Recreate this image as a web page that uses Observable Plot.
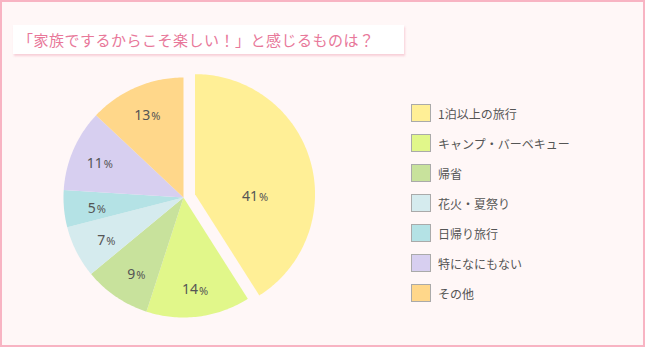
<!DOCTYPE html>
<html><head><meta charset="utf-8">
<script src="https://cdn.jsdelivr.net/npm/d3@7"></script>
<script src="https://cdn.jsdelivr.net/npm/@observablehq/plot@0.6"></script>
<style>
body{margin:0;background:#fff;font-family:"Noto Sans CJK JP",sans-serif;}
#frame{position:absolute;left:0;top:0;width:641px;height:343px;border:2px solid #F8B4C3;background:#FFF7F7;}
#title{position:absolute;left:13px;top:25px;width:391px;height:29px;background:#fff;box-shadow:1px 2px 2px rgba(240,160,180,0.45);color:#E8789A;font-size:15px;line-height:29px;padding-left:5px;box-sizing:border-box;letter-spacing:0.5px;white-space:nowrap}
#pie{position:absolute;left:33px;top:57px;}
#legend{position:absolute;left:411px;top:104px;}
.row{display:flex;align-items:center;height:18px;margin-bottom:12px;font-size:12px;color:#555;white-space:nowrap}
.sw{width:18px;height:16px;border:1px solid #aaa;margin-right:7px;flex:none}
</style>
</head><body>
<div id="frame"></div>
<div id="title">「家族でするからこそ楽しい！」と感じるものは？</div>
<div id="pie"></div>
<div id="legend"></div>
<script>
const categories = ["1泊以上の旅行","キャンプ・バーベキュー","帰省","花火・夏祭り","日帰り旅行","特になにもない","その他"];
const values = [41, 14, 9, 7, 5, 11, 13];
const colors = ["#FFEF96","#E1F78A","#C8E29C","#D5EBEE","#B4E2E5","#D7CFF0","#FFD78A"];
const exploded = ["1泊以上の旅行"];

const total = d3.sum(values);
let acc = 0;
const slices = categories.map((name, i) => {
  const a0 = acc / total * 2 * Math.PI;
  acc += values[i];
  const a1 = acc / total * 2 * Math.PI;
  return {name, value: values[i], a0, a1, i};
});
const points = [];
const labels = [];
for (const s of slices) {
  const mid = (s.a0 + s.a1) / 2;
  const off = exploded.includes(s.name) ? 0.1 : 0;
  const cx = off * Math.sin(mid), cy = off * Math.cos(mid);
  points.push({name: s.name, x: cx, y: cy});
  const n = Math.max(2, Math.ceil((s.a1 - s.a0) / (Math.PI / 180)));
  for (let k = 0; k <= n; k++) {
    const a = s.a0 + (s.a1 - s.a0) * k / n;
    points.push({name: s.name, x: cx + Math.sin(a), y: cy + Math.cos(a)});
  }
  points.push({name: s.name, x: cx, y: cy});
  const big = s.value / total > 0.3;
  const la = big ? Math.PI / 2 : mid;
  const lr = big ? 0.5 : 0.76;
  labels.push({name: s.name, value: s.value, x: cx + lr * Math.sin(la), y: cy + lr * Math.cos(la)});
}

const W = 300, H = 280, R = 120;
const chart = Plot.plot({
  width: W, height: H, margin: 0,
  style: {background: "transparent", fontFamily: "'Noto Sans', 'DejaVu Sans', sans-serif"},
  x: {domain: [-W / 2 / R, W / 2 / R], axis: null},
  y: {domain: [-H / 2 / R, H / 2 / R], axis: null},
  color: {domain: categories, range: colors},
  marks: [
    Plot.line(points, {x: "x", y: "y", z: "name", fill: "name", stroke: "none", curve: "linear"}),
    Plot.text(labels, {x: "x", y: "y", text: d => String(d.value), textAnchor: "end", dx: 3, dy: 2, fontSize: 14, fill: "#555", style: "letter-spacing:1px"}),
    Plot.text(labels, {x: "x", y: "y", text: d => "%", textAnchor: "start", dx: 4, dy: 3, fontSize: 11, fill: "#555"})
  ]
});
document.getElementById("pie").appendChild(chart);

const leg = document.getElementById("legend");
categories.forEach((c, i) => {
  const row = document.createElement("div");
  row.className = "row";
  const sw = document.createElement("span");
  sw.className = "sw";
  sw.style.background = colors[i];
  const t = document.createElement("span");
  t.textContent = c;
  row.appendChild(sw); row.appendChild(t);
  leg.appendChild(row);
});
</script>
</body></html>
